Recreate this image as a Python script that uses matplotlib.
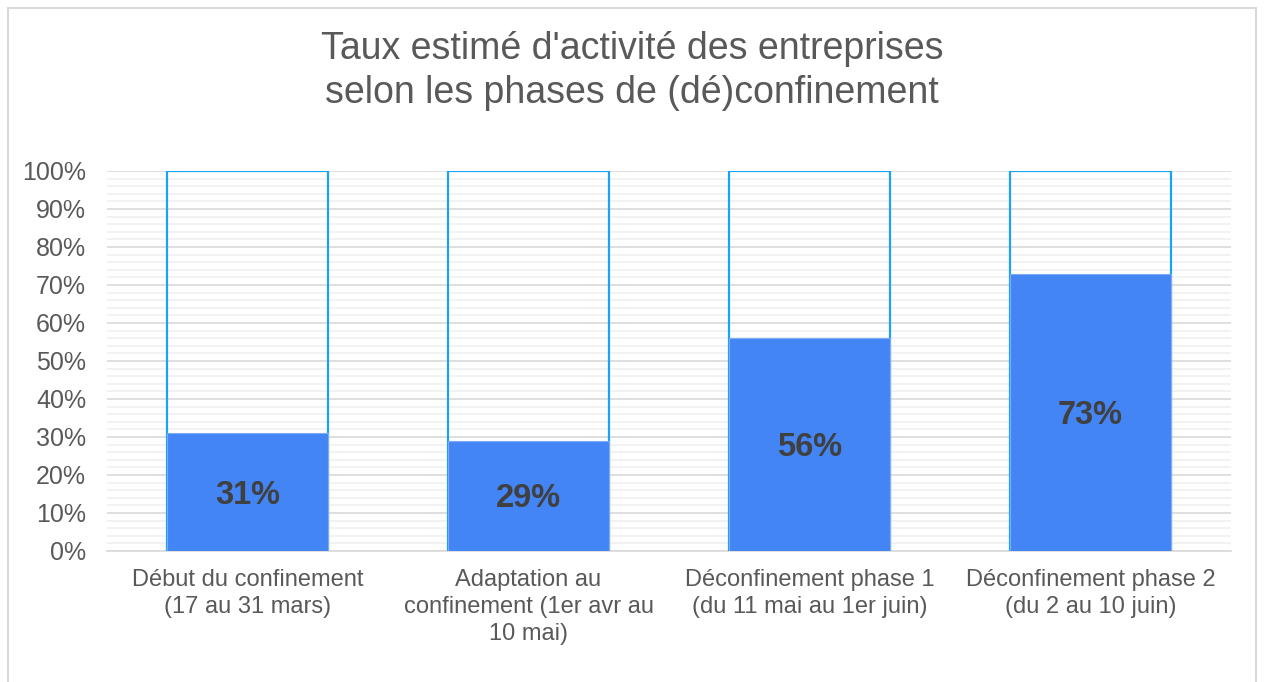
import matplotlib.pyplot as plt
from matplotlib.patches import Rectangle
from matplotlib.ticker import MultipleLocator, FuncFormatter

plt.rcParams['font.family'] = ['Liberation Sans', 'DejaVu Sans']

categories = [
    "Début du confinement\n(17 au 31 mars)",
    "Adaptation au\nconfinement (1er avr au\n10 mai)",
    "Déconfinement phase 1\n(du 11 mai au 1er juin)",
    "Déconfinement phase 2\n(du 2 au 10 juin)",
]
activity = [31, 29, 56, 73]
total = [100, 100, 100, 100]

fig = plt.figure(figsize=(12.64, 6.82), dpi=100)
ax = fig.add_axes([107 / 1264, 1 - 551 / 682, 1124 / 1264, 380 / 682])

x = range(len(categories))
w = 0.57
ax.bar(x, total, width=w, facecolor='none', edgecolor='#1AA3F5', linewidth=1.6, zorder=3)
ax.bar(x, activity, width=w, color='#4385F4', edgecolor='#7FAAF7', linewidth=0.8, zorder=4)

for i, v in enumerate(activity):
    ax.annotate(f"{v}%", (i, v / 2), xytext=(0, -3), textcoords='offset pixels',
                ha='center', va='center', fontsize=23.5,
                fontweight='bold', color='#404040', zorder=5)

ax.set_xlim(-0.5, len(categories) - 0.5)
ax.set_ylim(0, 100)
ax.yaxis.set_major_locator(MultipleLocator(10))
ax.yaxis.set_minor_locator(MultipleLocator(2))
ax.yaxis.set_major_formatter(FuncFormatter(lambda v, p: f"{v:.0f}%"))
ax.grid(axis='y', which='major', color='#D9D9D9', linewidth=1.2, zorder=0)
ax.grid(axis='y', which='minor', color='#F0F0F0', linewidth=1.2, zorder=0)
ax.set_axisbelow(True)

for s in ['top', 'right', 'left']:
    ax.spines[s].set_visible(False)
ax.spines['bottom'].set_color('#D9D9D9')
ax.spines['bottom'].set_linewidth(1.2)

ax.set_xticks(list(x))
ax.set_xticklabels(categories, fontsize=17, color='#595959', linespacing=1.3)
ax.tick_params(axis='x', length=0, pad=13)
ax.tick_params(axis='y', which='both', length=0, labelsize=18, labelcolor='#595959', pad=15)

fig.text(0.5, 1 - 71 / 682, "Taux estimé d'activité des entreprises\nselon les phases de (dé)confinement",
         ha='center', va='center', fontsize=27, color='#595959', linespacing=1.32)

fig.patches.append(Rectangle((8 / 1264, -0.01), 1248 / 1264, 1 - 8 / 682 + 0.01,
                             transform=fig.transFigure, fill=False,
                             edgecolor='#D9D9D9', linewidth=1.5))

fig.savefig('out.png', dpi=100, facecolor='white')
